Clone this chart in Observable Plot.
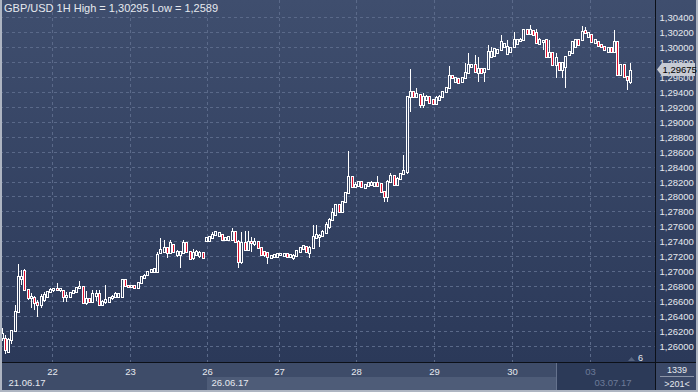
<!DOCTYPE html>
<html><head><meta charset="utf-8">
<script src="https://cdn.jsdelivr.net/npm/d3@7"></script>
<script src="https://cdn.jsdelivr.net/npm/@observablehq/plot@0.6"></script>
<style>
html,body{margin:0;padding:0;background:#2b3957;}
#chart{width:698px;height:392px;overflow:hidden;}
#chart svg{display:block;}
</style></head><body><div id="chart"></div>
<script>
const open = [
1.2610,1.2609,1.2592,1.2608,1.2620,1.2645,1.2689,1.2700,1.2675,1.2664,
1.2664,1.2657,1.2655,1.2661,1.2665,1.2672,1.2675,1.2676,1.2675,1.2673,
1.2665,1.2665,1.2671,1.2672,1.2677,1.2679,1.2657,1.2663,1.2659,1.2667,
1.2669,1.2655,1.2659,1.2659,1.2664,1.2665,1.2665,1.2665,1.2688,1.2680,
1.2679,1.2680,1.2677,1.2684,1.2691,1.2695,1.2699,1.2699,1.2699,1.2724,
1.2726,1.2731,1.2724,1.2735,1.2722,1.2722,1.2724,1.2738,1.2726,1.2718,
1.2722,1.2720,1.2724,1.2740,1.2740,1.2744,1.2748,1.2747,1.2748,1.2742,
1.2742,1.2742,1.2752,1.2739,1.2712,1.2738,1.2728,1.2739,1.2736,1.2739,
1.2731,1.2726,1.2724,1.2718,1.2719,1.2719,1.2722,1.2720,1.2723,1.2719,
1.2718,1.2720,1.2726,1.2730,1.2732,1.2724,1.2731,1.2744,1.2746,1.2747,
1.2751,1.2759,1.2768,1.2775,1.2788,1.2779,1.2793,1.2805,1.2826,1.2813,
1.2814,1.2819,1.2811,1.2814,1.2815,1.2814,1.2818,1.2817,1.2806,1.2799,
1.2819,1.2827,1.2815,1.2823,1.2830,1.2833,1.2933,1.2940,1.2933,1.2936,
1.2923,1.2929,1.2933,1.2929,1.2924,1.2929,1.2933,1.2940,1.2945,1.2961,
1.2953,1.2957,1.2953,1.2959,1.2965,1.2973,1.2976,1.2965,1.2971,1.2967,
1.2971,1.2987,1.2988,1.2992,1.2996,1.3000,1.2991,1.2994,1.3000,1.3004,
1.3008,1.3010,1.3023,1.3018,1.3022,1.3019,1.3004,1.3007,1.3010,1.2987,
1.2992,1.2976,1.2979,1.2969,1.2973,1.2990,1.2992,1.3000,1.3010,1.3010,
1.3022,1.3014,1.3016,1.3006,1.3007,1.3003,1.3000,1.2994,1.2999,1.2994,
1.3007,1.2963,1.2976,1.2960,1.2953];
const high = [
1.2624,1.2614,1.2610,1.2621,1.2655,1.2710,1.2701,1.2703,1.2676,1.2671,
1.2667,1.2661,1.2669,1.2672,1.2673,1.2677,1.2677,1.2684,1.2677,1.2675,
1.2672,1.2672,1.2675,1.2679,1.2687,1.2680,1.2673,1.2664,1.2675,1.2675,
1.2675,1.2661,1.2681,1.2665,1.2668,1.2672,1.2671,1.2689,1.2689,1.2681,
1.2681,1.2681,1.2685,1.2693,1.2696,1.2700,1.2703,1.2704,1.2726,1.2744,
1.2742,1.2732,1.2742,1.2736,1.2728,1.2727,1.2742,1.2739,1.2727,1.2730,
1.2728,1.2727,1.2726,1.2746,1.2747,1.2752,1.2754,1.2752,1.2750,1.2746,
1.2747,1.2758,1.2754,1.2742,1.2752,1.2754,1.2754,1.2746,1.2744,1.2740,
1.2732,1.2727,1.2726,1.2722,1.2723,1.2724,1.2724,1.2724,1.2724,1.2723,
1.2723,1.2728,1.2732,1.2735,1.2734,1.2734,1.2762,1.2762,1.2750,1.2755,
1.2766,1.2771,1.2784,1.2790,1.2790,1.2794,1.2806,1.2861,1.2827,1.2819,
1.2821,1.2821,1.2817,1.2819,1.2821,1.2819,1.2827,1.2818,1.2807,1.2822,
1.2831,1.2829,1.2826,1.2831,1.2855,1.2935,1.2971,1.2941,1.2945,1.2937,
1.2939,1.2936,1.2935,1.2931,1.2935,1.2936,1.2941,1.2947,1.2975,1.2963,
1.2960,1.2959,1.2960,1.2979,1.2992,1.2977,1.2990,1.2987,1.2972,1.2972,
1.3003,1.3000,1.2999,1.2997,1.3016,1.3006,1.3010,1.3000,1.3020,1.3011,
1.3012,1.3024,1.3024,1.30295,1.3023,1.3024,1.3012,1.3010,1.3011,1.3010,
1.2994,1.2992,1.2980,1.2980,1.2988,1.2995,1.3008,1.3011,1.3011,1.3028,
1.3027,1.3020,1.3018,1.3011,1.3008,1.3004,1.3002,1.3000,1.3000,1.3023,
1.3008,1.2977,1.2977,1.2961,1.2979];
const low = [
1.2606,1.2589,1.2590,1.2602,1.2619,1.2644,1.2681,1.2673,1.2661,1.2651,
1.2648,1.2638,1.2651,1.2659,1.2664,1.2671,1.2672,1.2673,1.2672,1.2659,
1.2659,1.2664,1.2669,1.2671,1.2676,1.2656,1.2655,1.2657,1.2657,1.2660,
1.2653,1.2653,1.2656,1.2657,1.2661,1.2664,1.2664,1.2664,1.2679,1.2677,
1.2677,1.2676,1.2676,1.2683,1.2689,1.2693,1.2697,1.2697,1.2697,1.2723,
1.2724,1.2718,1.2723,1.2724,1.2719,1.2704,1.2723,1.2724,1.2715,1.2715,
1.2720,1.2718,1.2716,1.2739,1.2739,1.2743,1.2747,1.2746,1.2740,1.2740,
1.2740,1.2740,1.2738,1.2704,1.2710,1.2727,1.2727,1.2726,1.2734,1.2730,
1.2720,1.2719,1.2710,1.2716,1.2718,1.2718,1.2720,1.2719,1.2718,1.2718,
1.2715,1.2719,1.2724,1.2728,1.2724,1.2718,1.2730,1.2743,1.2732,1.2746,
1.2750,1.2756,1.2767,1.2774,1.2778,1.2778,1.2791,1.2803,1.2811,1.2811,
1.2813,1.2811,1.2810,1.2813,1.2814,1.2813,1.2813,1.2805,1.2793,1.2793,
1.2818,1.2814,1.2814,1.2822,1.2829,1.2830,1.2913,1.2932,1.2932,1.2919,
1.2919,1.2928,1.2924,1.2923,1.2923,1.2928,1.2932,1.2939,1.2944,1.2957,
1.2952,1.2951,1.2952,1.2957,1.2964,1.2972,1.2965,1.2953,1.2964,1.2953,
1.2969,1.2985,1.2987,1.2991,1.2995,1.2999,1.2990,1.2992,1.2999,1.3003,
1.3007,1.3008,1.3016,1.3016,1.3015,1.3004,1.3003,1.2996,1.2985,1.2985,
1.2975,1.2959,1.2968,1.2959,1.2945,1.2988,1.2991,1.2999,1.3002,1.3008,
1.3018,1.3012,1.3006,1.3004,1.3000,1.2999,1.2995,1.2992,1.2992,1.2992,
1.2961,1.2961,1.2959,1.2943,1.2951];
const close = [
1.2616,1.2594,1.2608,1.2620,1.2645,1.2692,1.2692,1.2675,1.2664,1.2665,
1.2657,1.2655,1.2665,1.2668,1.2672,1.2675,1.2676,1.2675,1.2676,1.2665,
1.2667,1.2671,1.2673,1.2677,1.2679,1.2657,1.2663,1.2659,1.2669,1.2669,
1.2655,1.2659,1.2661,1.2664,1.2665,1.2669,1.2669,1.2688,1.2680,1.2679,
1.2680,1.2677,1.2684,1.2692,1.2693,1.2699,1.2701,1.2703,1.2722,1.2728,
1.2731,1.2724,1.2738,1.2726,1.2726,1.2726,1.2738,1.2726,1.2716,1.2724,
1.2726,1.2724,1.2718,1.2744,1.2746,1.2748,1.2752,1.2751,1.2742,1.2744,
1.2746,1.2752,1.2739,1.2712,1.2738,1.2728,1.2739,1.2738,1.2739,1.2731,
1.2722,1.2722,1.2719,1.2720,1.2722,1.2723,1.2723,1.2723,1.2719,1.2722,
1.2720,1.2727,1.2731,1.2734,1.2726,1.2731,1.2746,1.2748,1.2747,1.2752,
1.2762,1.2768,1.2778,1.2788,1.2779,1.2793,1.2805,1.2826,1.2813,1.2815,
1.2819,1.2813,1.2815,1.2818,1.2818,1.2818,1.2814,1.2806,1.2799,1.2819,
1.2827,1.2815,1.2823,1.2830,1.2834,1.2933,1.2940,1.2933,1.2937,1.2923,
1.2933,1.2933,1.2925,1.2924,1.2932,1.2933,1.2940,1.2945,1.2961,1.2959,
1.2959,1.2952,1.2959,1.2965,1.2976,1.2976,1.2967,1.2971,1.2965,1.2971,
1.2994,1.2994,1.2997,1.2996,1.3007,1.3004,1.3000,1.2999,1.3010,1.3010,
1.3010,1.3023,1.3018,1.3023,1.3016,1.3006,1.3010,1.3008,1.2987,1.2992,
1.2976,1.2985,1.2969,1.2979,1.2987,1.2994,1.3007,1.3010,1.3003,1.3020,
1.3019,1.3019,1.3007,1.3010,1.3002,1.3000,1.2996,1.2999,1.2994,1.3007,
1.2963,1.2976,1.2960,1.2956,1.29675];

const dayTicks = [15.5, 39.5, 63.5, 85.5, 109.5, 133.5, 157.5, 181.5];
const dayLabels = ["22", "23", "26", "27", "28", "29", "30", "03"];
const dateTicks = [-0.5, 63.5, 181.5];
const dateLabels = ["21.06.17", "26.06.17", "03.07.17"];
const yTicks = [1.260,1.262,1.264,1.266,1.268,1.270,1.272,1.274,1.276,1.278,1.280,1.282,
  1.284,1.286,1.288,1.290,1.292,1.294,1.296,1.298,1.300,1.302,1.304];
const symbol = "GBP/USD", period = "1H";
const barsCount = 1339, barsVisible = 201;

const BG_TOP = "#3f4e6e", BG_BOT = "#2b3959", GRID = "#5a6989", RED = "#e0102f";
const TXT = "#e6e9ef", DIM = "#6c7a98";
const FONT = "'Liberation Sans', Arial, sans-serif";

const data = close.map((c, i) => ({i, o: open[i], h: high[i], l: low[i], c}));
const up = data.filter(d => d.c >= d.o);
const down = data.filter(d => d.c < d.o);
const top_ = d => Math.max(d.o, d.c), bot_ = d => Math.min(d.o, d.c);
const fmt = v => v.toFixed(5).replace(".", ",");
const dayLab = new Map(dayTicks.map((t, k) => [t, dayLabels[k]]));
const dateLab = new Map(dateTicks.map((t, k) => [t, dateLabels[k]]));
const lastIdx = dayTicks.length - 1;

const chart = Plot.plot({
  width: 698, height: 392,
  marginLeft: 0, marginRight: 43.5, marginTop: 0, marginBottom: 29,
  style: {background: "transparent", color: TXT, fontFamily: FONT, fontSize: "9.5px", overflow: "visible"},
  x: {domain: [-0.5, 201.5], round: true, axis: null},
  y: {domain: [1.25769, 1.30632], round: true, axis: null},
  marks: [
    Plot.gridY(yTicks, {stroke: GRID, strokeOpacity: 1, strokeDasharray: "3,3"}),
    Plot.gridX(dayTicks, {stroke: GRID, strokeOpacity: 1, strokeDasharray: "3,3"}),
    Plot.ruleX(data, {x: "i", y1: "h", y2: "l", stroke: "#ffffff"}),
    Plot.ruleX(data, {x: "i", y1: top_, y2: bot_, stroke: "#ffffff", strokeWidth: 3, insetTop: -1, insetBottom: -1}),
    Plot.ruleX(up, {x: "i", y1: top_, y2: bot_, stroke: "url(#bgGrad)", strokeWidth: 1}),
    Plot.ruleX(down, {x: "i", y1: top_, y2: bot_, stroke: RED, strokeWidth: 1}),
    Plot.axisY(yTicks, {anchor: "right", tickSize: 0, tickPadding: 4.5, tickFormat: fmt, fill: TXT}),
    Plot.text(dayTicks.slice(0, lastIdx), {x: d => d, text: d => dayLab.get(d), frameAnchor: "bottom", lineAnchor: "top", dy: 5, fill: TXT}),
    Plot.text(dayTicks.slice(lastIdx), {x: d => d, text: d => dayLab.get(d), frameAnchor: "bottom", lineAnchor: "top", dy: 5, fill: DIM}),
    Plot.text(dateTicks.slice(0, 1), {x: d => d, text: d => dateLab.get(d), frameAnchor: "bottom", lineAnchor: "top", textAnchor: "start", dy: 16, dx: 8, fill: TXT}),
    Plot.text(dateTicks.slice(1, 2), {x: d => d, text: d => dateLab.get(d), frameAnchor: "bottom", lineAnchor: "top", textAnchor: "start", dy: 16, dx: 4, fill: TXT}),
    Plot.text(dateTicks.slice(2), {x: d => d, text: d => dateLab.get(d), frameAnchor: "bottom", lineAnchor: "top", textAnchor: "start", dy: 16, dx: 4, fill: DIM})
  ]
});
document.getElementById("chart").appendChild(chart);

// decorations: backgrounds, separators, labels
const svg = d3.select(chart);
const xs = chart.scale("x"), ys = chart.scale("y");
const bg = svg.insert("g", ":first-child");
const defs = svg.insert("defs", ":first-child");
const grad = defs.append("linearGradient").attr("id", "bgGrad")
  .attr("gradientUnits", "userSpaceOnUse").attr("x1", 0).attr("y1", 0).attr("x2", 0).attr("y2", 363);
grad.append("stop").attr("offset", 0).attr("stop-color", BG_TOP);
grad.append("stop").attr("offset", 1).attr("stop-color", BG_BOT);

const xd1 = Math.round(xs.apply(dayTicks[2])), xd2 = 556;
bg.append("rect").attr("x", 0).attr("y", 0).attr("width", 698).attr("height", 363).attr("fill", "url(#bgGrad)");
bg.append("rect").attr("x", 0).attr("y", 363).attr("width", 655).attr("height", 29).attr("fill", "#3e4c69");
bg.append("rect").attr("x", xd1).attr("y", 377).attr("width", xd2 - xd1).attr("height", 15).attr("fill", "#4e5c78");
bg.append("rect").attr("x", xd2).attr("y", 363).attr("width", 655 - xd2).attr("height", 29).attr("fill", "#2c3a58");
bg.append("rect").attr("x", 655).attr("y", 363).attr("width", 43).attr("height", 29).attr("fill", "#3a4867");

const fg = svg.append("g").attr("text-anchor", "start").attr("font-family", FONT).attr("font-size", 9);
fg.append("line").attr("x1", 655.5).attr("x2", 655.5).attr("y1", 0).attr("y2", 392).attr("stroke", "#0c1018");
fg.append("line").attr("x1", 0).attr("x2", 698).attr("y1", 362.5).attr("y2", 362.5).attr("stroke", "#0c1018");
fg.append("line").attr("x1", xd2 + 0.5).attr("x2", xd2 + 0.5).attr("y1", 363).attr("y2", 392).attr("stroke", "#65728d");
// outer border
fg.append("rect").attr("x", 0).attr("y", 0).attr("width", 2).attr("height", 392).attr("fill", "#aeb5c2");
fg.append("rect").attr("x", 696).attr("y", 0).attr("width", 2).attr("height", 392).attr("fill", "#aeb5c2");
fg.append("rect").attr("x", 0).attr("y", 390).attr("width", 698).attr("height", 2).attr("fill", "#aeb5c2");

const hi = d3.max(high), lo = d3.min(low);
const fmtShort = v => String(+v.toFixed(5)).replace(".", ",");
fg.append("text").attr("x", 4).attr("y", 12).attr("text-anchor", "start").attr("font-size", 11).attr("fill", TXT)
  .text(`${symbol} ${period} High = ${fmtShort(hi)} Low = ${fmtShort(lo)}`);

// last price tag
const last = close[close.length - 1];
const yc = ys.apply(last);
fg.append("path").attr("d", `M657,${yc - 1.5} L662,${yc - 8} L695,${yc - 8} L695,${yc + 5} L662,${yc + 5} Z`).attr("fill", "#c7cbd3");
fg.append("text").attr("x", 662.5).attr("y", yc - 1.5).attr("dy", "0.35em").attr("text-anchor", "start").attr("font-size", 9.5).attr("fill", "#000").text(fmt(last));

// small marker
fg.append("path").attr("d", "M628,361 L631.5,357 L635,361 Z").attr("fill", "#56647f");
fg.append("text").attr("x", 638).attr("y", 361).attr("text-anchor", "start").attr("fill", TXT).text("6");

// bars info box
fg.append("text").attr("x", 677).attr("y", 373).attr("text-anchor", "middle").attr("fill", TXT).text(String(barsCount));
fg.append("line").attr("x1", 660).attr("x2", 694).attr("y1", 376.5).attr("y2", 376.5).attr("stroke", "#8c95a8");
fg.append("text").attr("x", 677).attr("y", 386.5).attr("text-anchor", "middle").attr("fill", TXT).text(`>${barsVisible}<`);
</script></body></html>
